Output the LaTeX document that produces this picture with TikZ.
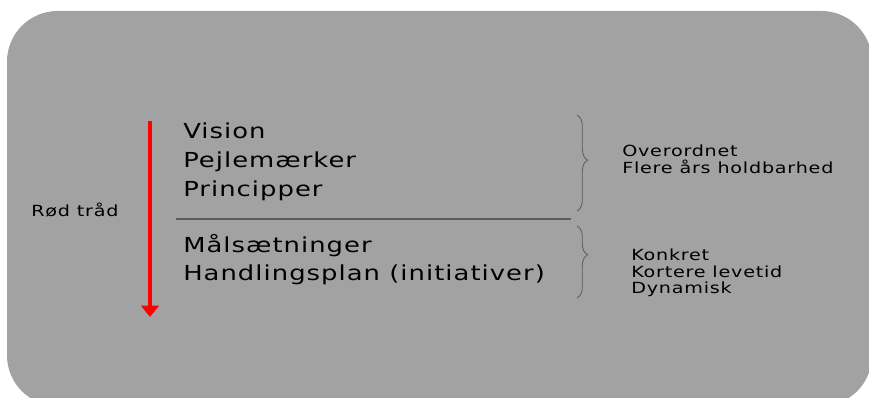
\documentclass[tikz,border=0pt]{standalone}
\usepackage{fontspec}
\setmainfont{DejaVu Sans}[FakeStretch=1.25, LetterSpace=5]
\usetikzlibrary{arrows.meta, positioning, decorations.pathreplacing}
\definecolor{bgGray}{HTML}{A2A2A2}
\definecolor{ruleGray}{HTML}{5C5C5C}

\begin{document}
\begin{tikzpicture}[
    x=0.75pt, y=-0.75pt,
    item/.style={anchor=base west, inner sep=0pt, font=\fontsize{15.5}{18}\selectfont},
    note/.style={anchor=base west, inner sep=0pt, font=\fontsize{11.5}{13}\selectfont},
    brc/.style={draw=ruleGray, line width=0.6pt, decorate,
                decoration={brace, amplitude=8pt, aspect=#1}},
  ]
    \useasboundingbox (0,0) rectangle (869,398);
    % background panel
    \begin{scope}
      \clip (0,0) rectangle (869,398);
      \fill[bgGray, rounded corners=38pt] (7,11) rectangle (872,406);
    \end{scope}

    % red thread
    \coordinate (thrTop) at (150,121);
    \coordinate (thrBot) at (150,317);
    \draw[red, line width=3pt, -{Triangle[width=13pt, length=8.5pt]}] (thrTop) -- (thrBot);
    \node[note] (thr) at (31,217) {Rød tråd};

    % upper group
    \node[item] (vis) at (183,139) {Vision};
    \node[item] (pej) at (183,168) {Pejlemærker};
    \node[item] (pri) at (183,197) {Principper};

    % separator
    \coordinate (sepL) at (176,219);
    \coordinate (sepR) at (571,219);
    \draw[ruleGray, line width=1.2pt] (sepL) -- (sepR);

    % lower group
    \node[item] (mal) at (183,253) {Målsætninger};
    \node[item] (han) at (183,281) {Handlingsplan (initiativer)};

    % braces
    \coordinate (bUpT) at (577,115);
    \coordinate (bUpB) at (577,211);
    \coordinate (bLoT) at (577,226);
    \coordinate (bLoB) at (577,298);
    \draw[brc=0.47] (bUpT) -- (bUpB);
    \draw[brc=0.4] (bLoT) -- (bLoB);

    % notes
    \node[note] (ove) at (622,157) {Overordnet};
    \node[note] (fle) at (622,174) {Flere års holdbarhed};
    \node[note] (kon) at (631,261) {Konkret};
    \node[note] (kor) at (631,278) {Kortere levetid};
    \node[note] (dyn) at (631,294) {Dynamisk};
\end{tikzpicture}
\end{document}
